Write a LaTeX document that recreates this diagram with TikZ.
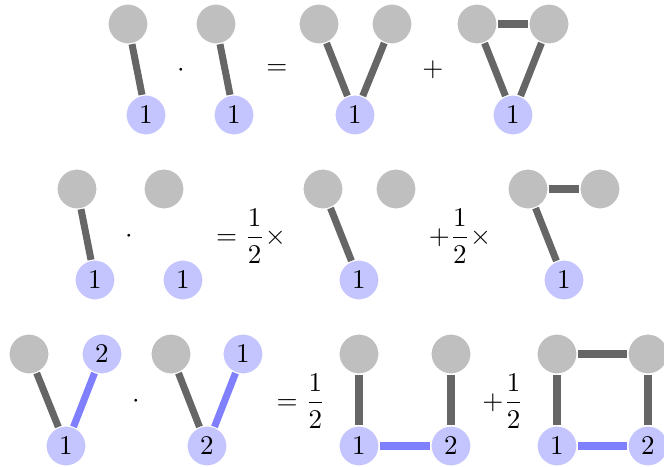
\documentclass[tikz,border=0pt]{standalone}
\usepackage{amsmath}
\definecolor{grigiochiaro}{RGB}{191,191,191}
\definecolor{grigioscuro}{RGB}{102,102,102}
\definecolor{bluechiaro}{RGB}{196,196,255}
\definecolor{bluelato}{RGB}{128,128,255}
\begin{document}
\begin{tikzpicture}[x=0.37pt, y=-0.37pt,
  vg/.style={circle, fill=grigiochiaro, draw=white, line width=0.4pt, minimum size=14.8pt, inner sep=0pt},
  vb/.style={circle, fill=bluechiaro, draw=white, line width=0.4pt, minimum size=14.8pt, inner sep=0pt},
  lato/.style={grigioscuro, line width=2.6pt},
  latob/.style={bluelato, line width=2.6pt}]
  \useasboundingbox (0,0) rectangle (664,467);

  % Prima riga
  \node[vg] (a1) at (128,24) {};
  \node[vb] (a2) at (146,115) {$1$};
  \node at (181,70) (p1) {$\cdot$};
  \node[vg] (b1) at (216,24) {};
  \node[vb] (b2) at (234,115) {$1$};
  \node at (277,70) (u1) {$=$};
  \node[vg] (c1) at (319,24) {};
  \node[vg] (c2) at (392,24) {};
  \node[vb] (c3) at (355,115) {$1$};
  \node at (433,70) (s1) {$+$};
  \node[vg] (d1) at (477,24) {};
  \node[vg] (d2) at (549,24) {};
  \node[vb] (d3) at (513,115) {$1$};
  \draw[lato] (a1) -- (a2);
  \draw[lato] (b1) -- (b2);
  \draw[lato] (c1) -- (c3);
  \draw[lato] (c2) -- (c3);
  \draw[lato] (d1) -- (d3);
  \draw[lato] (d2) -- (d3);
  \draw[lato] (d1) -- (d2);

  % Seconda riga
  \node[vg] (e1) at (77,189) {};
  \node[vb] (e2) at (95,280) {$1$};
  \node at (129,236) (p2) {$\cdot$};
  \node[vg] (f1) at (164,189) {};
  \node[vb] (f2) at (183,280) {$1$};
  \node at (251,236) (u2) {$\displaystyle =\frac{1}{2}\times$};
  \node[vg] (g1) at (323,189) {};
  \node[vg] (g2) at (396,189) {};
  \node[vb] (g3) at (359,280) {$1$};
  \node at (460,236) (s2) {$\displaystyle +\frac{1}{2}\times$};
  \node[vg] (h1) at (528,189) {};
  \node[vg] (h2) at (600,189) {};
  \node[vb] (h3) at (564,280) {$1$};
  \draw[lato] (e1) -- (e2);
  \draw[lato] (g1) -- (g3);
  \draw[lato] (h1) -- (h3);
  \draw[lato] (h1) -- (h2);

  % Terza riga
  \node[vg] (i1) at (29,354) {};
  \node[vb] (i2) at (102,354) {$2$};
  \node[vb] (i3) at (66,446) {$1$};
  \node at (136,401) (p3) {$\cdot$};
  \node[vg] (j1) at (171,354) {};
  \node[vb] (j2) at (243,354) {$1$};
  \node[vb] (j3) at (207,446) {$2$};
  \node at (301,401) (u3) {$\displaystyle =\frac{1}{2}$};
  \node[vg] (k1) at (359,354) {};
  \node[vg] (k2) at (451,354) {};
  \node[vb] (k3) at (359,446) {$1$};
  \node[vb] (k4) at (451,446) {$2$};
  \node at (503,401) (s3) {$\displaystyle +\frac{1}{2}$};
  \node[vg] (l1) at (557,354) {};
  \node[vg] (l2) at (648,354) {};
  \node[vb] (l3) at (557,446) {$1$};
  \node[vb] (l4) at (648,446) {$2$};
  \draw[lato] (i1) -- (i3);
  \draw[latob] (i2) -- (i3);
  \draw[lato] (j1) -- (j3);
  \draw[latob] (j2) -- (j3);
  \draw[lato] (k1) -- (k3);
  \draw[lato] (k2) -- (k4);
  \draw[latob] (k3) -- (k4);
  \draw[lato] (l1) -- (l3);
  \draw[lato] (l2) -- (l4);
  \draw[lato] (l1) -- (l2);
  \draw[latob] (l3) -- (l4);
\end{tikzpicture}
\end{document}
